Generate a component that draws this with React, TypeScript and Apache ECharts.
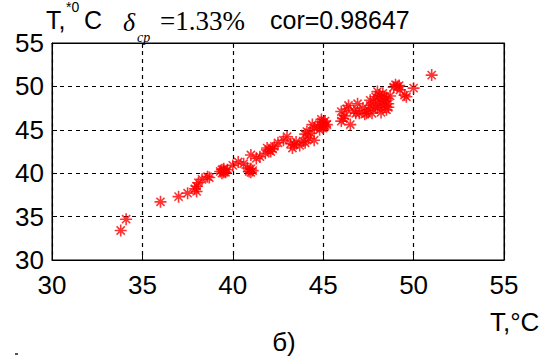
import React, { useEffect, useRef } from "react";
import * as echarts from "echarts";

// Measured temperature, °C (x)
const measured = [
  33.8, 34.1, 36.0, 37.0, 37.5, 37.9, 38.0, 38.1, 38.3, 38.6, 38.0, 38.7,
  39.4, 39.5, 39.6, 39.5, 39.3, 39.7, 39.5, 39.4,
  40.9, 41.0, 41.1, 40.8, 41.0,
  40.3, 40.0, 40.6, 41.0, 41.5, 41.3, 41.8, 42.0, 42.1, 41.9, 42.2, 42.5, 42.3,
  43.0, 42.8, 43.4, 43.5, 43.3, 44.0, 43.9, 44.1, 44.0, 44.5, 44.5, 44.4, 44.7,
  44.3, 43.2, 43.7, 44.2,
  45.0, 45.0, 45.1, 44.9, 45.0, 45.2, 44.8, 45.1, 44.9,
  46.0, 46.0, 46.5, 46.2, 46.4, 46.9, 47.0, 46.7, 47.2, 47.5, 47.3, 47.6,
  46.8, 47.4, 46.1, 46.3,
  47.9, 48.0, 48.1, 48.2, 48.5, 48.3, 47.8, 48.0, 47.7, 48.4, 48.6, 48.7,
  48.1, 48.3, 48.5, 47.9, 48.2, 48.6, 48.4, 47.6,
  49.0, 48.9, 49.1, 49.25, 49.6, 49.5, 50.0, 49.2, 51.0,
];

// Model temperature, °C (y)
const modeled = [
  33.4, 34.7, 36.7, 37.3, 37.7, 38.2, 38.5, 38.9, 39.3, 39.6, 37.9, 39.5,
  40.0, 40.3, 40.1, 40.5, 40.2, 40.4, 40.1, 40.4,
  40.2, 40.5, 40.3, 40.6, 40.1,
  41.3, 40.9, 41.1, 42.1, 41.9, 41.7, 42.3, 42.7, 42.5, 42.9, 42.8, 43.5, 43.1,
  44.2, 43.8, 43.3, 43.6, 42.9, 43.5, 43.7, 44.8, 44.5, 45.2, 43.8, 45.6, 45.4,
  44.6, 43.4, 43.2, 44.0,
  45.8, 45.5, 46.0, 45.9, 45.2, 45.6, 45.0, 45.4, 46.2,
  47.1, 46.0, 45.6, 46.6, 47.8, 48.0, 46.9, 47.2, 47.5, 47.3, 46.8, 47.8,
  46.9, 46.9, 46.3, 47.4,
  48.8, 49.4, 48.5, 48.0, 47.3, 47.8, 48.2, 47.5, 46.9, 48.3, 48.0, 48.9,
  49.0, 49.2, 48.6, 47.6, 47.0, 47.6, 48.8, 48.4,
  50.2, 49.9, 50.0, 49.6, 48.8, 49.0, 49.8, 50.1, 51.3,
];

const axisTicks = [30, 35, 40, 45, 50, 55];

const ASTERISK =
  "path://M5,0L5,10M0,5L10,5M1.6,1.6L8.4,8.4M1.6,8.4L8.4,1.6";

export default function App() {
  const ref = useRef<HTMLDivElement>(null);
  useEffect(() => {
    if (!ref.current) return;
    const chart = echarts.init(ref.current, null, { renderer: "svg" });
    const data = measured.map((x, i) => [x, modeled[i]]);
    const font = "Liberation Sans, Arial, sans-serif";
    const serif = "Liberation Serif, Times New Roman, serif";
    const splitLine = {
      show: true,
      lineStyle: { color: "#000", width: 1.2, type: [4, 4] as any },
    };
    const baseAxis = {
      type: "value" as const,
      min: axisTicks[0],
      max: axisTicks[axisTicks.length - 1],
      interval: 5,
    };
    chart.setOption({
      animation: false,
      backgroundColor: "#fff",
      grid: {
        left: 52,
        right: 51,
        top: 43,
        bottom: 98,
        show: true,
        borderColor: "#000",
        borderWidth: 1,
        backgroundColor: "transparent",
      },
      xAxis: [
        {
          ...baseAxis,
          position: "bottom",
          axisLine: { show: true, lineStyle: { color: "#000", width: 1 } },
          axisTick: { show: true, inside: true, length: 5, lineStyle: { color: "#000" } },
          axisLabel: { color: "#000", fontSize: 26, fontFamily: font, margin: 12 },
          splitLine,
        },
        {
          ...baseAxis,
          position: "top",
          axisLine: { show: true, lineStyle: { color: "#000", width: 1 } },
          axisTick: { show: true, inside: true, length: 5, lineStyle: { color: "#000" } },
          axisLabel: { show: false },
          splitLine: { show: false },
        },
      ],
      yAxis: [
        {
          ...baseAxis,
          position: "left",
          axisLine: { show: true, lineStyle: { color: "#000", width: 1 } },
          axisTick: { show: true, inside: true, length: 5, lineStyle: { color: "#000" } },
          axisLabel: { color: "#000", fontSize: 26, fontFamily: font, margin: 8 },
          splitLine,
        },
        {
          ...baseAxis,
          position: "right",
          axisLine: { show: true, lineStyle: { color: "#000", width: 1 } },
          axisTick: { show: true, inside: true, length: 5, lineStyle: { color: "#000" } },
          axisLabel: { show: false },
          splitLine: { show: false },
        },
      ],
      series: [
        {
          type: "scatter",
          xAxisIndex: 0,
          yAxisIndex: 0,
          data,
          symbol: ASTERISK,
          symbolSize: 12,
          itemStyle: { color: "rgba(0,0,0,0)", borderColor: "#ff0000", borderWidth: 1.6 },
          emphasis: { disabled: true },
        },
      ],
      graphic: [
        { type: "text", x: 46, y: 20, style: { text: "T,", font: `25px ${font}`, fill: "#000", verticalAlign: "middle" } },
        { type: "text", x: 66, y: 7, style: { text: "*0", font: `14px ${font}`, fill: "#000", verticalAlign: "middle" } },
        { type: "text", x: 84, y: 20, style: { text: "C", font: `25px ${font}`, fill: "#000", verticalAlign: "middle" } },
        { type: "text", x: 123, y: 22, style: { text: "δ", font: `italic 26px ${serif}`, fill: "#000", verticalAlign: "middle" } },
        { type: "text", x: 137, y: 37, style: { text: "cp", font: `italic 14px ${serif}`, fill: "#000", verticalAlign: "middle" } },
        { type: "text", x: 160, y: 21, style: { text: "=1.33%", font: `27px ${serif}`, fill: "#000", verticalAlign: "middle" } },
        { type: "text", x: 270, y: 20, style: { text: "cor=0.98647", font: `25px ${font}`, fill: "#000", verticalAlign: "middle" } },
        { type: "text", x: 490, y: 322, style: { text: "T,°C", font: `26px ${font}`, fill: "#000", verticalAlign: "middle" } },
        { type: "text", x: 284, y: 342, style: { text: "б)", font: `26px ${font}`, fill: "#000", align: "center", verticalAlign: "middle" } },
        { type: "rect", shape: { x: 15, y: 353, width: 3, height: 2 }, style: { fill: "#555" } },
      ],
    });
    return () => chart.dispose();
  }, []);
  return (
    <div
      ref={ref}
      style={{ position: "fixed", left: 0, top: 0, width: 555, height: 358, background: "#fff" }}
    />
  );
}
